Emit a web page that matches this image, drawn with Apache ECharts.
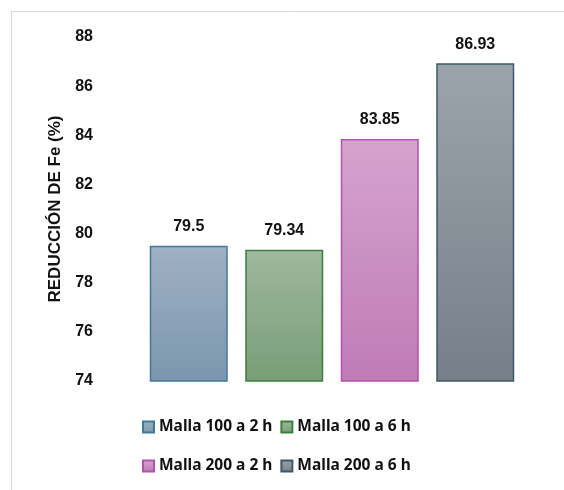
<!DOCTYPE html>
<html>
<head>
<meta charset="utf-8">
<script src="https://cdn.jsdelivr.net/npm/echarts@6/dist/echarts.min.js"></script>
<style>html,body{margin:0;padding:0;background:#fff;}#c{width:564px;height:490px;}</style>
</head>
<body>
<div id="c"></div>
<script>
const categories = ['Malla 100 a 2 h', 'Malla 100 a 6 h', 'Malla 200 a 2 h', 'Malla 200 a 6 h'];
const values = [79.5, 79.34, 83.85, 86.93];
const yTicks = { min: 74, max: 88, interval: 2 };
const yName = 'REDUCCIÓN DE Fe (%)';

const styles = [
  { top: '#9fb1c3', bottom: '#7b96ad', border: '#41799a' },
  { top: '#9eb99d', bottom: '#799d77', border: '#3e7e3f' },
  { top: '#d5a3ce', bottom: '#bf7bb6', border: '#b552ad' },
  { top: '#9ca4ab', bottom: '#767f88', border: '#3f5868' }
];

const series = categories.map((name, i) => ({
  name: name,
  type: 'bar',
  barWidth: 78,
  barGap: '-100%',
  data: categories.map((c, j) => (j === i ? values[i] : '-')),
  itemStyle: {
    color: new echarts.graphic.LinearGradient(0, 0, 0, 1, [
      { offset: 0, color: styles[i].top },
      { offset: 1, color: styles[i].bottom }
    ]),
    borderColor: styles[i].border,
    borderWidth: 1.5
  },
  label: {
    show: true,
    position: 'top',
    distance: 11,
    color: '#111',
    fontFamily: 'Liberation Sans, Arial, sans-serif',
    fontWeight: 'bold',
    fontSize: 16
  }
}));

const legendText = {
  fontFamily: 'Noto Sans, sans-serif',
  fontWeight: 'bold',
  fontSize: 15.5,
  color: '#111'
};

const chart = echarts.init(document.getElementById('c'), null, { renderer: 'canvas' });
chart.setOption({
  animation: false,
  backgroundColor: '#fff',
  graphic: [{
    type: 'rect',
    shape: { x: 11.5, y: 11.5, width: 700, height: 700 },
    style: { fill: 'none', stroke: '#d9d9d9', lineWidth: 1 },
    silent: true
  }],
  grid: { left: 141, right: 41, top: 37, bottom: 109 },
  legend: [
    {
      data: categories.slice(0, 2),
      left: 137, top: 414,
      itemWidth: 11, itemHeight: 11, itemGap: 8,
      icon: 'rect',
      textStyle: legendText
    },
    {
      data: categories.slice(2, 4),
      left: 137, top: 453,
      itemWidth: 11, itemHeight: 11, itemGap: 8,
      icon: 'rect',
      textStyle: legendText
    }
  ],
  xAxis: {
    type: 'category',
    data: categories,
    axisLine: { show: false },
    axisTick: { show: false },
    axisLabel: { show: false },
    splitLine: { show: false }
  },
  yAxis: {
    type: 'value',
    min: yTicks.min, max: yTicks.max, interval: yTicks.interval,
    name: yName,
    nameLocation: 'middle',
    nameGap: 76,
    nameTextStyle: {
      fontFamily: 'Liberation Sans, Arial, sans-serif',
      fontWeight: 'bold', fontSize: 17, color: '#111'
    },
    axisLine: { show: false },
    axisTick: { show: false },
    splitLine: { show: false },
    axisLabel: {
      margin: 48,
      fontFamily: 'Liberation Sans, Arial, sans-serif',
      fontWeight: 'bold', fontSize: 16, color: '#111'
    }
  },
  series: series
});
</script>
</body>
</html>
